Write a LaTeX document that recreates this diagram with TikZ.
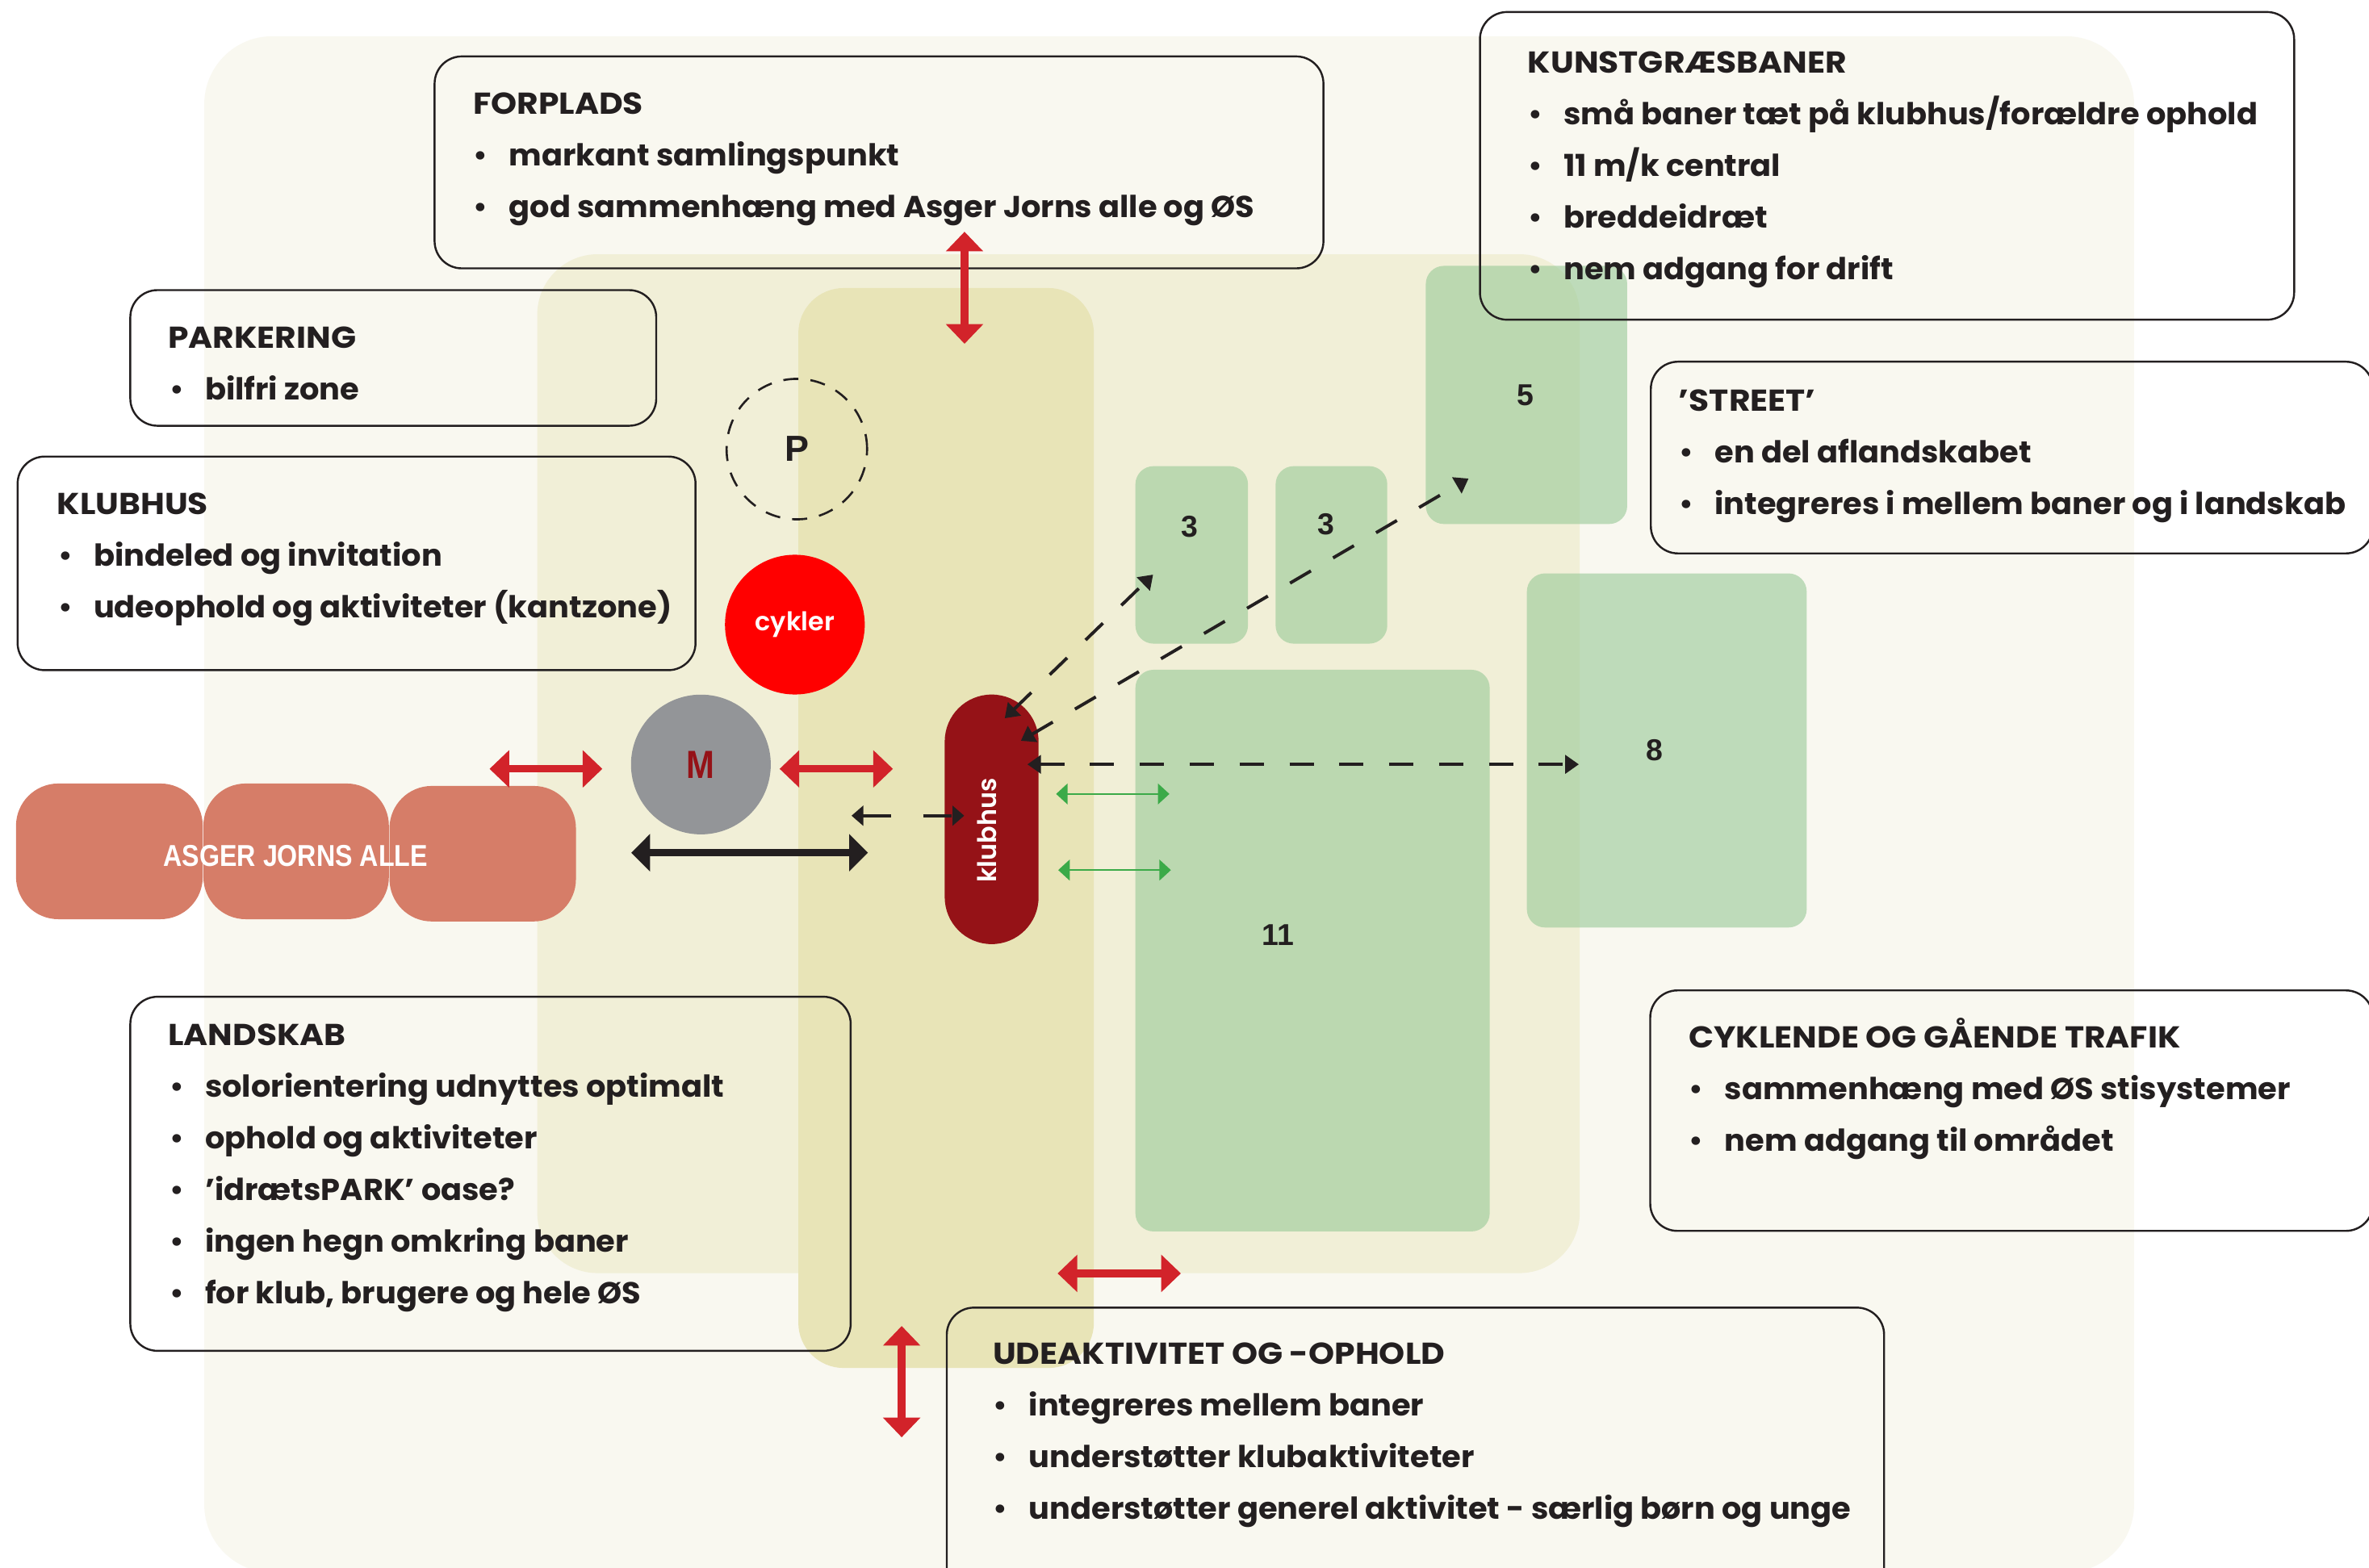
\documentclass[tikz,border=0pt]{standalone}
\usepackage{fontspec}
\usetikzlibrary{arrows.meta}
\newfontfamily\boxfont{Poppins}[UprightFont={* Bold}, FakeStretch=1.025]
\newfontfamily\titlefont{Poppins}[UprightFont={* Bold}, FakeStretch=1.09]
\newfontfamily\labelfont{Poppins}[UprightFont={* SemiBold}]
\newfontfamily\libfont{Liberation Sans Bold}
\newfontfamily\libnarrow{Liberation Sans Bold}[FakeStretch=0.86]
\definecolor{bgcream}{RGB}{249,248,240}
\definecolor{zone}{RGB}{241,239,215}
\definecolor{stripc}{RGB}{232,228,183}
\definecolor{pitchc}{RGB}{151,201,150}
\definecolor{asger}{RGB}{214,125,104}
\definecolor{arrowred}{RGB}{210,35,42}
\definecolor{clubred}{RGB}{149,18,23}
\definecolor{mgrey}{RGB}{147,149,152}
\definecolor{cykred}{RGB}{255,0,0}
\definecolor{ink}{RGB}{35,31,32}
\definecolor{arrowgreen}{RGB}{59,170,72}
\newcommand\bl[1]{\makebox[22.3pt][l]{\hspace{-1.2pt}\raisebox{0.6pt}{\scalebox{0.92}{\textbullet}}}#1}
\begin{document}
\begin{tikzpicture}[x=1pt,y=-1pt,
  textbox/.style={draw=ink, line width=1.3pt, rounded corners=18pt, inner sep=0pt, anchor=north west},
  titletxt/.style={anchor=base west, inner sep=0pt, text=ink, font=\titlefont\fontsize{20pt}{24pt}\selectfont},
  itemtxt/.style={anchor=base west, inner sep=0pt, text=ink, font=\boxfont\fontsize{20pt}{24pt}\selectfont},
  pitchlbl/.style={inner sep=0pt, text=ink, font=\libfont\fontsize{20pt}{24pt}\selectfont},
  pitchfill/.style={fill=pitchc, fill opacity=0.6, rounded corners=12pt},
  redarrow/.style={draw=arrowred, line width=5pt, {Triangle[width=24pt,length=13pt]}-{Triangle[width=24pt,length=13pt]}},
  blackarrow/.style={draw=ink, line width=5pt, {Triangle[width=24pt,length=12.4pt]}-{Triangle[width=24pt,length=12.4pt]}},
  greenarrow/.style={draw=arrowgreen, line width=1.4pt, {Triangle[width=13.6pt,length=7.6pt]}-{Triangle[width=13.6pt,length=7.6pt]}},
  dasharrow/.style={draw=ink, line width=2.1pt, dash pattern=on 16pt off 17pt, {Triangle[width=12pt,length=9pt]}-{Triangle[width=12pt,length=9pt]}},
  asgerblock/.style={fill=asger, rounded corners=28pt}
]
\clip (0,0) rectangle (1568,1038);
\fill[white] (0,0) rectangle (1568,1038);

% zones
\fill[bgcream, rounded corners=45pt] (135.2,24) rectangle (1412.5,1041);
\fill[zone, rounded corners=40pt] (355.6,168.3) rectangle (1045.6,842.8);
\fill[stripc, rounded corners=30pt] (528.4,190.7) rectangle (724,905.6);

% pitches
\fill[pitchfill] (751.5,308.6) rectangle (826,426.1);
\fill[pitchfill] (844.3,308.6) rectangle (918.2,426.1);
\fill[pitchfill] (943.7,176) rectangle (1077,346.9);
\fill[pitchfill] (1010.6,379.6) rectangle (1195.8,614);
\fill[pitchfill] (751.5,443.4) rectangle (986,815.2);
\node[pitchlbl] (n3a) at (787.6,348.4) {3};
\node[pitchlbl] (n3b) at (877.7,346.8) {3};
\node[pitchlbl] (n5) at (1009.5,261.7) {5};
\node[pitchlbl] (n8) at (1094.9,496.5) {8};
\node[pitchlbl] (n11) at (846.1,619.2) {11};

% Asger Jorns Alle
\fill[asgerblock] (10.6,518.7) rectangle (134.2,608.5);
\fill[asgerblock] (134.6,518.7) rectangle (257.4,608.5);
\fill[asgerblock] (257.8,520.3) rectangle (381.2,610);
\node[inner sep=0pt, text=white, font=\libnarrow\fontsize{20pt}{23pt}\selectfont] (asgertxt) at (195.7,566.6) {ASGER JORNS ALLE};

% circles and clubhouse
\node[circle, draw=ink, line width=1.4pt, dash pattern=on 10pt off 8pt, minimum size=93pt, inner sep=0pt,
      font=\libfont\fontsize{24pt}{28pt}\selectfont, text=ink] (park) at (527.4,297.3) {P};
\node[circle, fill=cykred, minimum size=92.5pt, inner sep=0pt, text=white,
      font=\labelfont\fontsize{17pt}{20pt}\selectfont] (cykler) at (526.1,413.5) {cykler};
\node[circle, fill=mgrey, minimum size=92.5pt, inner sep=0pt, text=clubred,
      font=\libnarrow\fontsize{26pt}{29pt}\selectfont] (metro) at (463.9,506.1) {M};
\node[rounded corners=31pt, fill=clubred, minimum width=62.1pt, minimum height=165.2pt, inner sep=0pt] (klubhus) at (656.35,542.4) {};
\node[rotate=90, inner sep=0pt, text=white, font=\labelfont\fontsize{17pt}{20pt}\selectfont] (klubtxt) at (653.2,549.8) {klubhus};

% text boxes
\node[textbox, minimum width=588.3pt, minimum height=140.3pt] (forplads) at (287,36.7) {};
\node[titletxt] (forplads-t) at (313,75.8) {FORPLADS};
\node[itemtxt] (forplads-1) at (314.5,110) {\bl{markant samlingspunkt}};
\node[itemtxt] (forplads-2) at (314.5,144.2) {\bl{god sammenhæng med Asger Jorns alle og ØS}};

\node[textbox, minimum width=538.9pt, minimum height=203.7pt] (kunst) at (978.9,7.3) {};
\node[titletxt] (kunst-t) at (1011,48.4) {KUNSTGRÆSBANER};
\node[itemtxt] (kunst-1) at (1012.5,82.6) {\bl{små baner tæt på klubhus/forældre ophold}};
\node[itemtxt] (kunst-2) at (1012.5,116.8) {\bl{11 m/k central}};
\node[itemtxt] (kunst-3) at (1012.5,151) {\bl{breddeidræt}};
\node[itemtxt] (kunst-4) at (1012.5,185.2) {\bl{nem adgang for drift}};

\node[textbox, minimum width=348.1pt, minimum height=89.8pt] (parkering) at (85.6,191.4) {};
\node[titletxt] (parkering-t) at (111,230.5) {PARKERING};
\node[itemtxt] (parkering-1) at (113.2,264.7) {\bl{bilfri zone}};

\node[textbox, minimum width=448.7pt, minimum height=141.4pt] (klubbox) at (11,301.6) {};
\node[titletxt] (klubbox-t) at (37.6,340.7) {KLUBHUS};
\node[itemtxt] (klubbox-1) at (39.5,374.9) {\bl{bindeled og invitation}};
\node[itemtxt] (klubbox-2) at (39.5,409.1) {\bl{udeophold og aktiviteter (kantzone)}};

\node[textbox, minimum width=478pt, minimum height=126.9pt] (street) at (1092,238.8) {};
\node[titletxt] (street-t) at (1111,272.2) {’STREET’};
\node[itemtxt] (street-1) at (1112.5,306.4) {\bl{en del aflandskabet}};
\node[itemtxt] (street-2) at (1112.5,340.6) {\bl{integreres i mellem baner og i landskab}};

\node[textbox, minimum width=476.8pt, minimum height=234.4pt] (landskab) at (85.6,659.2) {};
\node[titletxt] (landskab-t) at (111,692) {LANDSKAB};
\node[itemtxt] (landskab-1) at (113.2,726.2) {\bl{solorientering udnyttes optimalt}};
\node[itemtxt] (landskab-2) at (113.2,760.4) {\bl{ophold og aktiviteter}};
\node[itemtxt] (landskab-3) at (113.2,794.6) {\bl{’idrætsPARK’ oase?}};
\node[itemtxt] (landskab-4) at (113.2,828.8) {\bl{ingen hegn omkring baner}};
\node[itemtxt] (landskab-5) at (113.2,863) {\bl{for klub, brugere og hele ØS}};

\node[textbox, minimum width=478.4pt, minimum height=159.2pt] (cyk) at (1091.6,655) {};
\node[titletxt] (cyk-t) at (1117.6,693.6) {CYKLENDE OG GÅENDE TRAFIK};
\node[itemtxt] (cyk-1) at (1119.1,727.8) {\bl{sammenhæng med ØS stisystemer}};
\node[itemtxt] (cyk-2) at (1119.1,762) {\bl{nem adgang til området}};

\node[textbox, minimum width=620.4pt, minimum height=200pt] (ude) at (626,865) {};
\node[titletxt] (ude-t) at (657,903) {UDEAKTIVITET OG -OPHOLD};
\node[itemtxt] (ude-1) at (658.5,937.2) {\bl{integreres mellem baner}};
\node[itemtxt] (ude-2) at (658.5,971.4) {\bl{understøtter klubaktiviteter}};
\node[itemtxt] (ude-3) at (658.5,1005.6) {\bl{understøtter generel aktivitet - særlig børn og unge}};

% arrow end points
\coordinate (a1s) at (638.4,153.4); \coordinate (a1e) at (638.4,227.6);
\coordinate (a2s) at (324,509);     \coordinate (a2e) at (398.7,509);
\coordinate (a3s) at (516,509);     \coordinate (a3e) at (591,509);
\coordinate (a4s) at (417.8,564.5); \coordinate (a4e) at (574.5,564.5);
\coordinate (a5s) at (563.6,540);   \coordinate (a5e) at (638.2,540);
\coordinate (a6s) at (699,525.6);   \coordinate (a6e) at (774,525.6);
\coordinate (a7s) at (700.4,576);   \coordinate (a7e) at (775,576);
\coordinate (a8s) at (700,843);     \coordinate (a8e) at (781.6,843);
\coordinate (a9s) at (596.8,877.8); \coordinate (a9e) at (596.8,951.5);
\coordinate (d1s) at (665,475.5);   \coordinate (d1e) at (763.2,380.4);
\coordinate (d2s) at (675.7,490.4); \coordinate (d2e) at (972,316.8);
\coordinate (d3s) at (680,506);     \coordinate (d3e) at (1045,506);

\draw[redarrow] (a1s) -- (a1e);
\draw[redarrow] (a2s) -- (a2e);
\draw[redarrow] (a3s) -- (a3e);
\draw[blackarrow] (a4s) -- (a4e);
\draw[draw=ink, line width=2pt, dash pattern=on 19pt off 21pt, {Triangle[width=13pt,length=7.8pt]}-{Triangle[width=13pt,length=7.8pt]}] (a5s) -- (a5e);
\draw[greenarrow] (a6s) -- (a6e);
\draw[greenarrow] (a7s) -- (a7e);
\draw[redarrow] (a8s) -- (a8e);
\draw[redarrow] (a9s) -- (a9e);
\draw[dasharrow] (d1s) -- (d1e);
\draw[dasharrow] (d2s) -- (d2e);
\draw[dasharrow] (d3s) -- (d3e);
\end{tikzpicture}
\end{document}
